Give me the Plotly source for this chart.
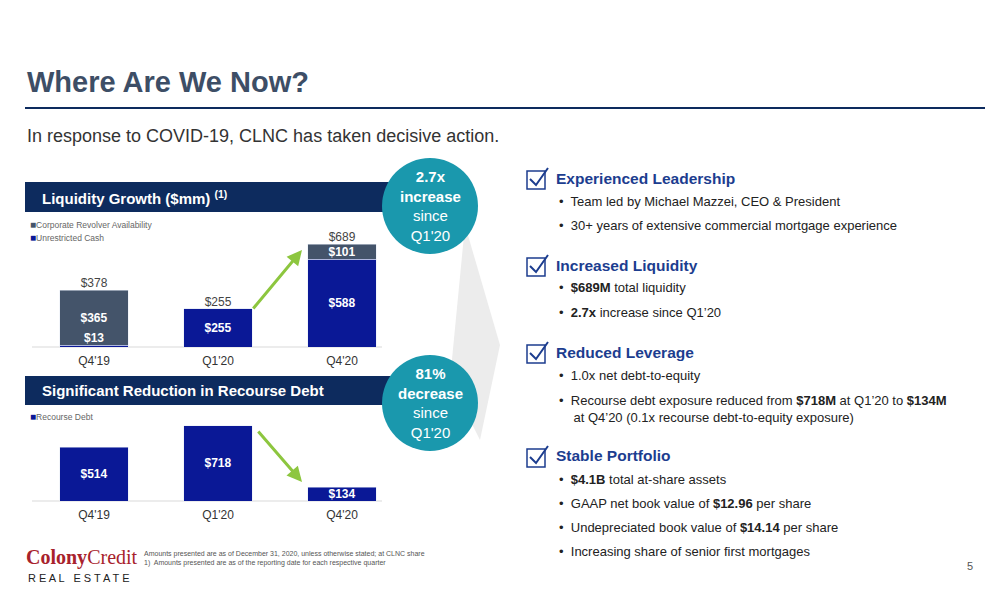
import plotly.graph_objects as go

quarters = ["Q4'19", "Q1'20", "Q4'20"]
cash = [13, 255, 588]
revolver = [365, 0, 101]
totals = [378, 255, 689]
debt = [514, 718, 134]

W, H = 1008, 612
OFF = 8  # page body margin
def px(x): return (x - OFF) / W
def py(y): return 1 - (y - OFF) / H

NAVY = "#0d2b5e"; BLUE = "#0a1896"; GREY = "#44546a"; TEAL = "#1a98ad"; GREEN = "#8dc63f"
TXT = "#222222"; HEAD = "#1c3d8f"
FONT = "Liberation Sans"
BT = dict(color="white", size=12, family=FONT)

fig = go.Figure()
fig.add_trace(go.Bar(x=quarters, y=cash, marker_color=BLUE, width=0.55,
                     text=[("<b>$%d</b>" % v if v > 50 else "") for v in cash], textposition="inside",
                     insidetextanchor="middle", textfont=BT, constraintext="none",
                     xaxis="x", yaxis="y", showlegend=False))
fig.add_trace(go.Bar(x=quarters, y=revolver, marker_color=GREY, width=0.55,
                     text=[("<b>$%d</b>" % v if v > 0 else "") for v in revolver], textposition="inside",
                     insidetextanchor="middle", textfont=BT, constraintext="none",
                     xaxis="x", yaxis="y", showlegend=False))
fig.add_trace(go.Scatter(x=quarters, y=totals, mode="text", text=["$%d" % v for v in totals],
                         textposition="top center", textfont=dict(color="#444", size=12, family=FONT),
                         xaxis="x", yaxis="y", showlegend=False, cliponaxis=False))
fig.add_trace(go.Scatter(x=[quarters[0]], y=[cash[0]], mode="text", text=["<b>$%d</b>" % cash[0]],
                         textposition="top center", textfont=BT,
                         xaxis="x", yaxis="y", showlegend=False))
fig.add_trace(go.Bar(x=quarters, y=debt, marker_color=BLUE, width=0.55,
                     text=["<b>$%d</b>" % v for v in debt], textposition="inside", insidetextanchor="middle",
                     textfont=BT, constraintext="none",
                     xaxis="x2", yaxis="y2", showlegend=False))

fig.update_layout(
    width=W, height=H, margin=dict(l=0, r=0, t=0, b=0), barmode="stack",
    paper_bgcolor="white", plot_bgcolor="rgba(0,0,0,0)", font=dict(family=FONT),
    xaxis=dict(domain=[px(32), px(404)], anchor="y", showgrid=False, showline=False, ticklabelstandoff=5,
               tickfont=dict(size=12, color="#333"), ticks="", range=[-0.5, 2.5]),
    yaxis=dict(domain=[py(347), py(228)], range=[0, 796], visible=False),
    xaxis2=dict(domain=[px(32), px(404)], anchor="y2", showgrid=False, showline=False, ticklabelstandoff=5,
                tickfont=dict(size=12, color="#333"), ticks="", range=[-0.5, 2.5]),
    yaxis2=dict(domain=[py(501), py(415)], range=[0, 823], visible=False),
)

shapes = []
ann = []
def A(**k):
    k.setdefault("xref", "paper"); k.setdefault("yref", "paper"); k.setdefault("showarrow", False)
    k.setdefault("yanchor", "middle")
    ann.append(k)

A(x=px(25), y=py(82), text="<b>Where Are We Now?</b>", xanchor="left", font=dict(size=29, color="#3d4e66", family=FONT))
shapes.append(dict(type="line", xref="paper", yref="paper", x0=px(25), x1=px(985), y0=py(108), y1=py(108),
                   line=dict(color=NAVY, width=2)))
A(x=px(25), y=py(136), text="In response to COVID-19, CLNC has taken decisive action.", xanchor="left",
  font=dict(size=18, color="#333", family=FONT))
shapes.append(dict(type="path", xref="paper", yref="paper",
                   path="M %f,%f L %f,%f L %f,%f L %f,%f Z" % (px(465), py(225), px(500), py(345), px(480), py(440), px(450), py(380)),
                   fillcolor="#ececec", line=dict(width=0), layer="below"))
for y0, y1, t in [(182, 212, "Liquidity Growth ($mm) <sup>(1)</sup>"), (376, 405, "Significant Reduction in Recourse Debt")]:
    shapes.append(dict(type="rect", xref="paper", yref="paper", x0=px(25), x1=px(405), y0=py(y0), y1=py(y1),
                       fillcolor=NAVY, line=dict(width=0), layer="below"))
    A(x=px(40), y=py((y0 + y1) / 2), text="<b>%s</b>" % t, xanchor="left", font=dict(size=15, color="white", family=FONT))
for y in [347, 501]:
    shapes.append(dict(type="line", xref="paper", yref="paper", x0=px(32), x1=px(382), y0=py(y), y1=py(y),
                       line=dict(color="#d9d9d9", width=1), layer="below"))
for y, c, t in [(224, GREY, "Corporate Revolver Availability"), (237, BLUE, "Unrestricted Cash"), (416, BLUE, "Recourse Debt")]:
    A(x=px(28), y=py(y), text="<span style='color:%s;font-size:10px'>■</span>%s" % (c, t), xanchor="left",
      font=dict(size=8.5, color="#666", family=FONT))
for cy, lines in [(206, ["<b>2.7x</b>", "<b>increase</b>", "since", "Q1'20"]), (403, ["<b>81%</b>", "<b>decrease</b>", "since", "Q1'20"])]:
    shapes.append(dict(type="circle", xref="paper", yref="paper", x0=px(382), x1=px(478), y0=py(cy - 48), y1=py(cy + 48),
                       fillcolor=TEAL, line=dict(width=0)))
    A(x=px(430), y=py(cy), text="<br>".join(lines), font=dict(size=15, color="white", family=FONT))
A(x=px(302), y=py(250), ax=-50, ay=60, axref="pixel", ayref="pixel", text="", showarrow=True,
  arrowhead=2, arrowwidth=3, arrowcolor=GREEN, arrowsize=1)
A(x=px(302), y=py(482), ax=-45, ay=-52, axref="pixel", ayref="pixel", text="", showarrow=True,
  arrowhead=2, arrowwidth=3, arrowcolor=GREEN, arrowsize=1)
sections = [
    (178, "Experienced Leadership", ["Team led by Michael Mazzei, CEO & President",
                                     "30+ years of extensive commercial mortgage experience"]),
    (265, "Increased Liquidity", ["<b>$689M</b> total liquidity", "<b>2.7x</b> increase since Q1’20"]),
    (352, "Reduced Leverage", ["1.0x net debt-to-equity",
                               "Recourse debt exposure reduced from <b>$718M</b> at Q1’20 to <b>$134M</b><br>    at Q4’20 (0.1x recourse debt-to-equity exposure)"]),
    (456, "Stable Portfolio", ["<b>$4.1B</b> total at-share assets", "GAAP net book value of <b>$12.96</b> per share",
                               "Undepreciated book value of <b>$14.14</b> per share", "Increasing share of senior first mortgages"]),
]
for y, head, bullets in sections:
    shapes.append(dict(type="rect", xref="paper", yref="paper", x0=px(527), x1=px(545), y0=py(y - 7), y1=py(y + 11),
                       line=dict(color=HEAD, width=1.5)))
    shapes.append(dict(type="path", xref="paper", yref="paper",
                       path="M %f,%f L %f,%f L %f,%f" % (px(530), py(y + 1), px(536), py(y + 7), px(548), py(y - 10)),
                       line=dict(color=HEAD, width=2)))
    A(x=px(554), y=py(y), text="<b>%s</b>" % head, xanchor="left", font=dict(size=15.5, color=HEAD, family=FONT))
    by = y + 23
    for b in bullets:
        two = "<br>" in b
        A(x=px(557), y=py(by - 8) if two else py(by), text="•  " + b, xanchor="left", yanchor="top" if two else "middle",
          align="left", font=dict(size=13, color=TXT, family=FONT))
        by += 24
A(x=px(24), y=py(557), text="<b>Colony</b>Credit", xanchor="left", font=dict(size=20, color="#a8222c", family="Liberation Serif"))
A(x=px(26), y=py(578), text="R E A L   E S T A T E", xanchor="left", font=dict(size=11, color="#222", family=FONT))
A(x=px(142), y=py(554), text="Amounts presented are as of December 31, 2020, unless otherwise stated; at CLNC share",
  xanchor="left", font=dict(size=7, color="#555", family=FONT))
A(x=px(142), y=py(563), text="1)  Amounts presented are as of the reporting date for each respective quarter",
  xanchor="left", font=dict(size=7, color="#555", family=FONT))
A(x=px(975), y=py(566), text="5", xanchor="right", font=dict(size=11, color="#555", family=FONT))

fig.update_layout(shapes=shapes, annotations=ann)
fig.write_html("out.html")
